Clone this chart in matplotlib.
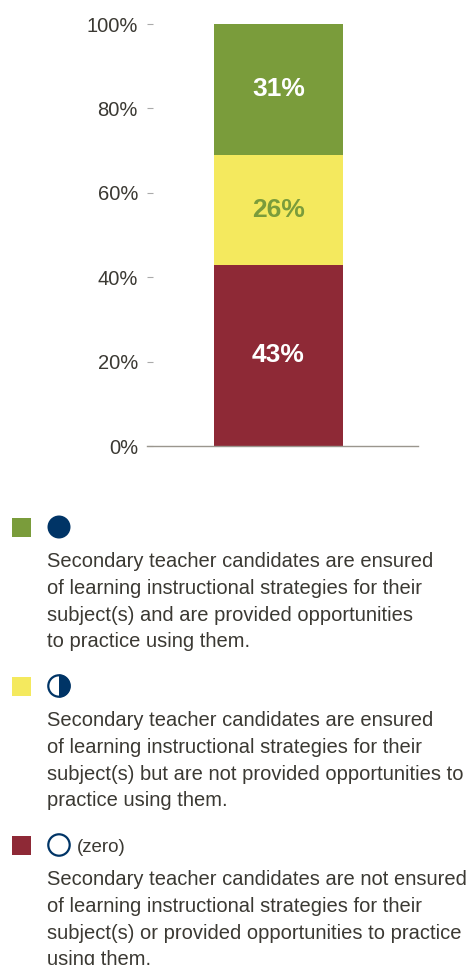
import matplotlib
matplotlib.use("Agg")
import matplotlib.pyplot as plt
from matplotlib.patches import Rectangle, Circle, Wedge

plt.rcParams['font.family'] = ['Liberation Sans', 'DejaVu Sans']

# share of programs in each rating, stacked bottom to top
segments = ["zero", "half", "full"]
shares = [43, 26, 31]
seg_colors = ["#8E2936", "#F4E95E", "#7A9C3B"]
label_colors = ["white", "#7A9C3B", "white"]
yticks = [0, 20, 40, 60, 80, 100]

legend_text = [
    "Secondary teacher candidates are ensured\nof learning instructional strategies for their\n"
    "subject(s) and are provided opportunities\nto practice using them.",
    "Secondary teacher candidates are ensured\nof learning instructional strategies for their\n"
    "subject(s) but are not provided opportunities to\npractice using them.",
    "Secondary teacher candidates are not ensured\nof learning instructional strategies for their\n"
    "subject(s) or provided opportunities to practice\nusing them.",
]
legend_colors = ["#7A9C3B", "#F4E95E", "#8E2936"]
navy = "#003466"
text_color = "#3B3933"

W, H = 470, 965
fig = plt.figure(figsize=(W / 100, H / 100), dpi=100)

ax = fig.add_axes([147 / W, 1 - 446 / H, (418 - 147) / W, (446 - 24) / H])
bottom = 0
for val, col, lc in zip(shares, seg_colors, label_colors):
    ax.bar(0.485, val, width=0.476, bottom=bottom, color=col, linewidth=0)
    ax.text(0.485, bottom + val / 2, f"{val}%", ha="center", va="center",
            color=lc, fontsize=19, fontweight="bold")
    bottom += val

ax.set_xlim(0, 1)
ax.set_ylim(0, 100)
ax.set_xticks([])
ax.set_yticks(yticks)
ax.set_yticklabels([f"{t}%" for t in yticks], fontsize=14.5, color=text_color)
ax.tick_params(axis="y", direction="in", length=4, width=0.8, color="#AAAAAA", pad=6.5)
for s in ["top", "right", "left"]:
    ax.spines[s].set_visible(False)
ax.spines["bottom"].set_color("#9A968E")
ax.spines["bottom"].set_linewidth(1)

# legend drawn in pixel coordinates on an overlay
lg = fig.add_axes([0, 0, 1, 1])
lg.set_xlim(0, W)
lg.set_ylim(H, 0)
lg.axis("off")

header_y = [527, 686, 845]
for i, (hy, col, txt) in enumerate(zip(header_y, legend_colors, legend_text)):
    lg.add_patch(Rectangle((12, hy - 9.5), 19, 19, color=col, linewidth=0))
    cx, r = 59, 11.5
    if i == 0:
        lg.add_patch(Circle((cx, hy), r, color=navy, linewidth=0))
    elif i == 1:
        lg.add_patch(Wedge((cx, hy), r, -90, 90, facecolor=navy, edgecolor="none"))
        lg.add_patch(Circle((cx, hy), r - 0.8, facecolor="none", edgecolor=navy, linewidth=1.6))
    else:
        lg.add_patch(Circle((cx, hy), r - 0.8, facecolor="none", edgecolor=navy, linewidth=1.6))
        lg.text(77, hy + 2, "(zero)", ha="left", va="center", fontsize=13.5, color=text_color)
    lg.text(47, hy + 25, txt, ha="left", va="top", fontsize=14.5, color=text_color,
            linespacing=1.52)

fig.savefig("out.png", dpi=100)
